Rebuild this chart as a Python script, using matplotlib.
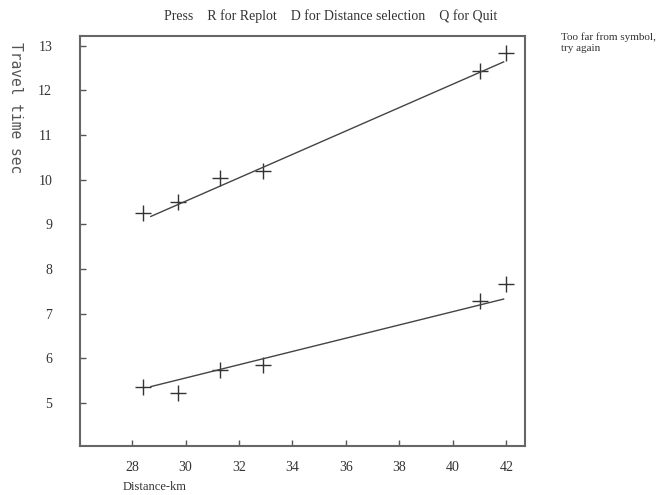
import matplotlib.pyplot as plt
import numpy as np

# readings taken off the plot
distance = [28.4, 29.7, 31.3, 32.9, 41.0, 42.0]
upper_time = [9.25, 9.5, 10.03, 10.19, 12.44, 12.85]
lower_time = [5.37, 5.23, 5.75, 5.86, 7.29, 7.67]

# fitted lines (end points as drawn)
fit_x = [28.7, 41.9]
upper_fit = [9.18, 12.64]
lower_fit = [5.37, 7.33]

x_ticks = [28, 30, 32, 34, 36, 38, 40, 42]
y_ticks = [5, 6, 7, 8, 9, 10, 11, 12, 13]

plt.rcParams['font.family'] = ['Liberation Serif', 'DejaVu Serif']

fig = plt.figure(figsize=(6.57, 4.95), dpi=100)
ax = fig.add_axes([80 / 657, 1 - 446 / 495, 445 / 657, 410 / 495])

ink = '#333333'
for ys in (upper_time, lower_time):
    ax.plot(distance, ys, linestyle='none', marker='+', markersize=12,
            markeredgewidth=1.0, color=ink)
for ys in (upper_fit, lower_fit):
    ax.plot(fit_x, ys, color='#444444', linewidth=1.0)

ax.set_xlim(26.05, 42.7)
ax.set_ylim(4.04, 13.22)
ax.set_xticks(x_ticks)
ax.set_yticks(y_ticks)
ax.tick_params(direction='in', length=4, width=1, color='#555555',
               labelsize=10, labelcolor=ink)
ax.tick_params(axis='x', pad=11)
ax.tick_params(axis='y', pad=20)
for s in ax.spines.values():
    s.set_color('#666666')
    s.set_linewidth(1.5)

fig.text(331 / 657, 1 - 16 / 495,
         'Press    R for Replot    D for Distance selection    Q for Quit',
         ha='center', va='center', fontsize=10, color=ink)
fig.text(561 / 657, 1 - 43 / 495, 'Too far from symbol,\ntry again',
         ha='left', va='center', fontsize=8, color=ink, linespacing=1.3)
fig.text(123 / 657, 1 - 487 / 495, 'Distance-km', ha='left', va='center',
         fontsize=9, color=ink)
fig.text(15 / 657, 1 - 108 / 495, 'Travel time sec', rotation=270,
         ha='center', va='center', fontsize=10.5, color='#555555',
         family=['DejaVu Sans Mono'])

fig.savefig('out.png', dpi=100)
